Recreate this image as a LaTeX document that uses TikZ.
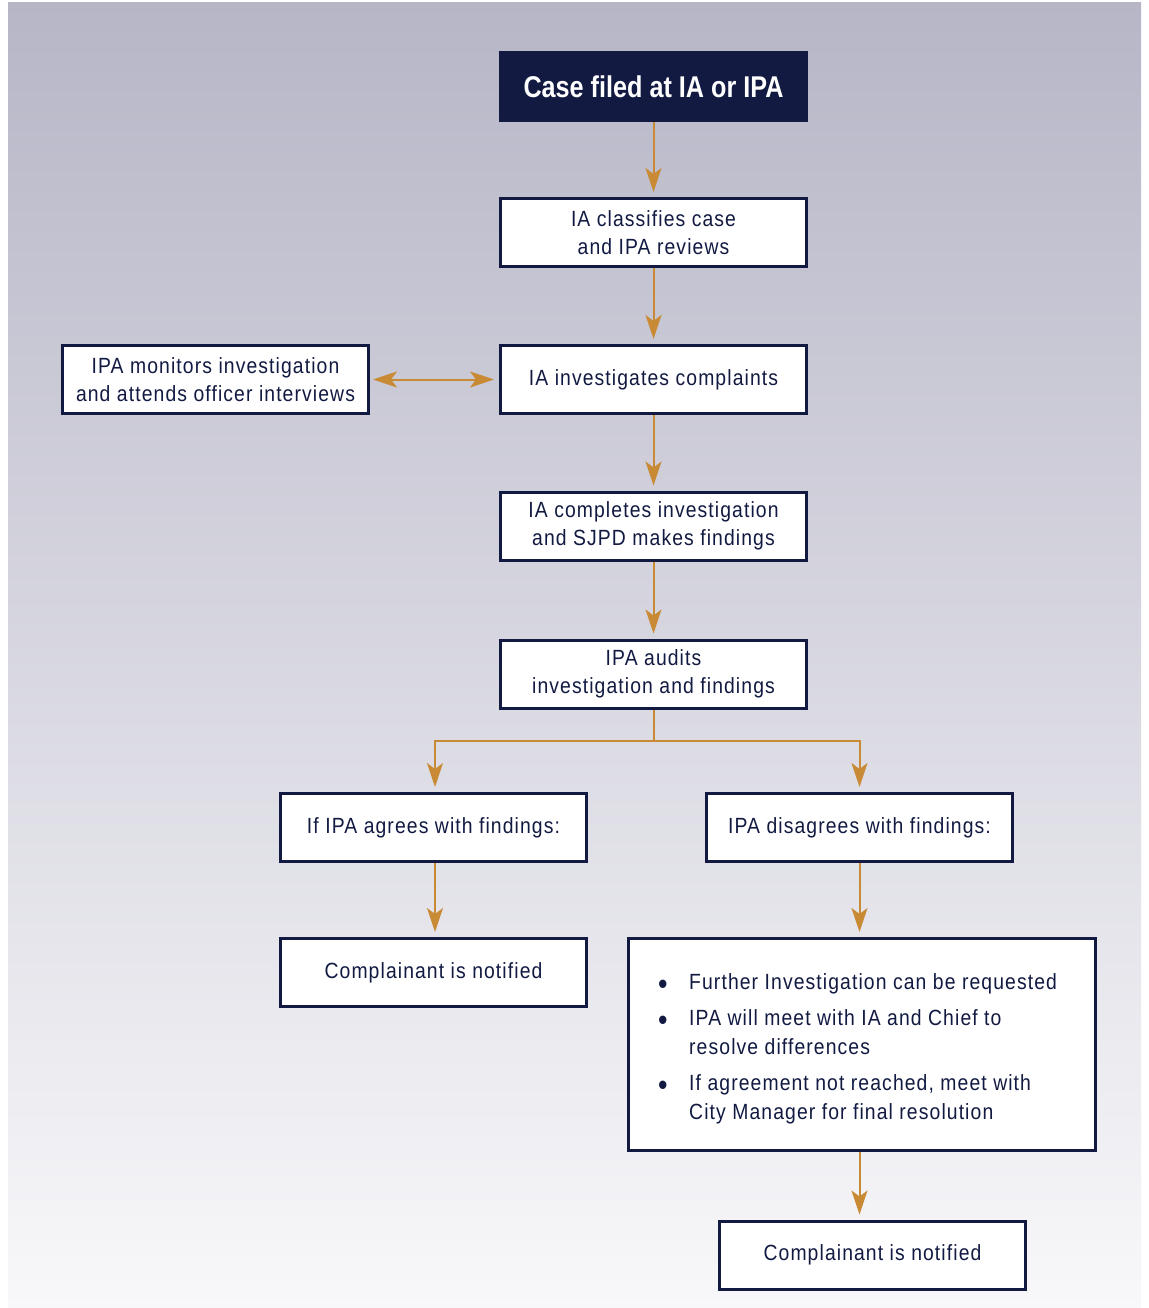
\documentclass[tikz,border=0pt]{standalone}
\usepackage{fontspec}
\setmainfont[FakeStretch=0.88,LetterSpace=5]{Liberation Sans}
\newfontfamily\titlefont[FakeStretch=0.84]{Liberation Sans}
\usetikzlibrary{arrows.meta}
\definecolor{navy}{HTML}{121A42}
\definecolor{arr}{HTML}{C98A35}
\definecolor{bgtop}{HTML}{B7B6C7}
\definecolor{bgbot}{HTML}{F8F8FA}
\newcommand{\bigbul}{\raisebox{-4.5pt}{\scalebox{1.4}{\textbullet}}}
\tikzset{
  box/.style={draw=navy, line width=3pt, fill=white, text=navy, minimum width=306pt, minimum height=68pt,
    align=center, inner sep=0pt, font=\fontsize{22}{28}\selectfont},
  titlebox/.style={fill=navy, text=white, minimum width=309pt, minimum height=71pt, inner sep=0pt,
    font=\fontsize{30}{34}\selectfont\titlefont\bfseries},
  flow/.style={draw=arr, line width=2pt, -{Stealth[length=24pt,width=16pt,inset=6pt]}, shorten >=5pt},
  flowline/.style={draw=arr, line width=2pt},
  twoway/.style={draw=arr, line width=2pt, {Stealth[length=24pt,width=16pt,inset=6pt]}-{Stealth[length=24pt,width=16pt,inset=6pt]}, shorten >=5pt, shorten <=3pt},
  bullettext/.style={text=navy, anchor=north west, inner sep=0pt, font=\fontsize{22}{29}\selectfont}
}
\begin{document}
\begin{tikzpicture}[x=1pt,y=-1pt]
\useasboundingbox (0,0) rectangle (1148,1308);
\fill[white] (0,0) rectangle (1148,1308);
\shade[top color=bgtop, bottom color=bgbot] (8,3) rectangle (1141,1308);

\node[titlebox] (title) at (653.5,86.5) {Case filed at IA or IPA};
\node[box] (b1) at (653.5,232.5) {IA classifies case\\and IPA reviews};
\node[box] (b2) at (653.5,379.5) {IA investigates complaints};
\node[box] (mon) at (215.5,379.5) {IPA monitors investigation\\and attends officer interviews};
\node[box] (b3) at (653.5,526) {IA completes investigation\\and SJPD makes findings};
\node[box] (b4) at (653.5,674) {IPA audits\\investigation and findings};
\node[box] (agr) at (433.5,827.5) {If IPA agrees with findings:};
\node[box] (dis) at (859.5,827.5) {IPA disagrees with findings:};
\node[box] (notl) at (433.5,972.5) {Complainant is notified};
\node[box, minimum width=467pt, minimum height=212pt] (bul) at (862,1044.5) {};
\node[bullettext] (bt) at (658,969) {%
  \begin{tabular}{@{}p{31pt}@{}l@{}}
  \bigbul & Further Investigation can be requested\\[7pt]
  \bigbul & IPA will meet with IA and Chief to\\
   & resolve differences\\[7pt]
  \bigbul & If agreement not reached, meet with\\
   & City Manager for final resolution
  \end{tabular}};
\node[box] (notr) at (872.5,1255) {Complainant is notified};

\coordinate (j) at (653.5,741);
\draw[flow] (title) -- (b1);
\draw[flow] (b1) -- (b2);
\draw[twoway] (mon.east) -- (b2.west);
\draw[flow] (b2) -- (b3);
\draw[flow] (b3) -- (b4);
\draw[flowline] (b4.south) -- (j);
\draw[flow] (j) -| ([xshift=1.5pt]agr.north);
\draw[flow] (j) -| (dis.north);
\draw[flow] ([xshift=1.5pt]agr.south) -- ([xshift=1.5pt]notl.north);
\draw[flow] (dis.south) -- (dis.south |- bul.north);
\draw[flow] (dis.south |- bul.south) -- (dis.south |- notr.north);
\end{tikzpicture}
\end{document}
